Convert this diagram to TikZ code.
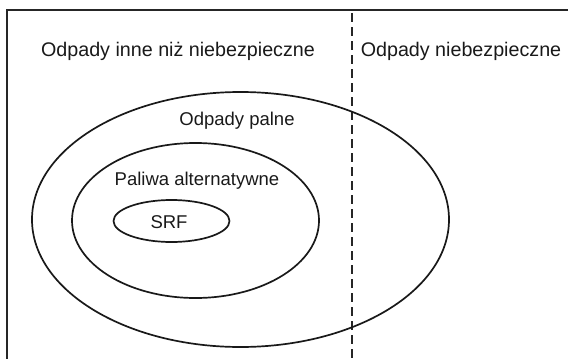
\documentclass[tikz,border=0pt]{standalone}
\usepackage{fontspec}
\setmainfont{Liberation Sans}
\begin{document}
\begin{tikzpicture}[x=1pt,y=-1pt,
  frameline/.style={line width=1.3pt,draw=black!85},
  sepline/.style={line width=1.4pt,draw=black!85,dash pattern=on 9pt off 5pt},
  ring/.style={line width=1.7pt,draw=black!90},
  biglabel/.style={anchor=base,inner sep=0pt,font=\fontsize{19.7}{23}\selectfont,text=black!90},
  label/.style={anchor=base,inner sep=0pt,font=\fontsize{18.5}{22}\selectfont,text=black!90}]
\useasboundingbox (0,0) rectangle (568,359);
\coordinate (tr) at (568,10);
\coordinate (tl) at (7,10);
\coordinate (bl) at (7,359);
\draw[frameline] (tr) -- (tl) -- (bl);
\coordinate (dtop) at (352,13);
\coordinate (dbot) at (352,359);
\draw[sepline] (dtop) -- (dbot);
\draw[ring] (240.5,219.5) ellipse [x radius=208.5, y radius=127.5];
\draw[ring] (195.5,220.5) ellipse [x radius=123.5, y radius=77.5];
\draw[ring] (171.5,221) ellipse [x radius=58, y radius=21];
\node[biglabel] (nonhaz) at (178,56) {Odpady inne niż niebezpieczne};
\node[biglabel] (haz) at (461,56) {Odpady niebezpieczne};
\node[label] (comb) at (237,125) {Odpady palne};
\node[label] (alt) at (197,185) {Paliwa alternatywne};
\node[label] (srf) at (169,228) {SRF};
\end{tikzpicture}
\end{document}
